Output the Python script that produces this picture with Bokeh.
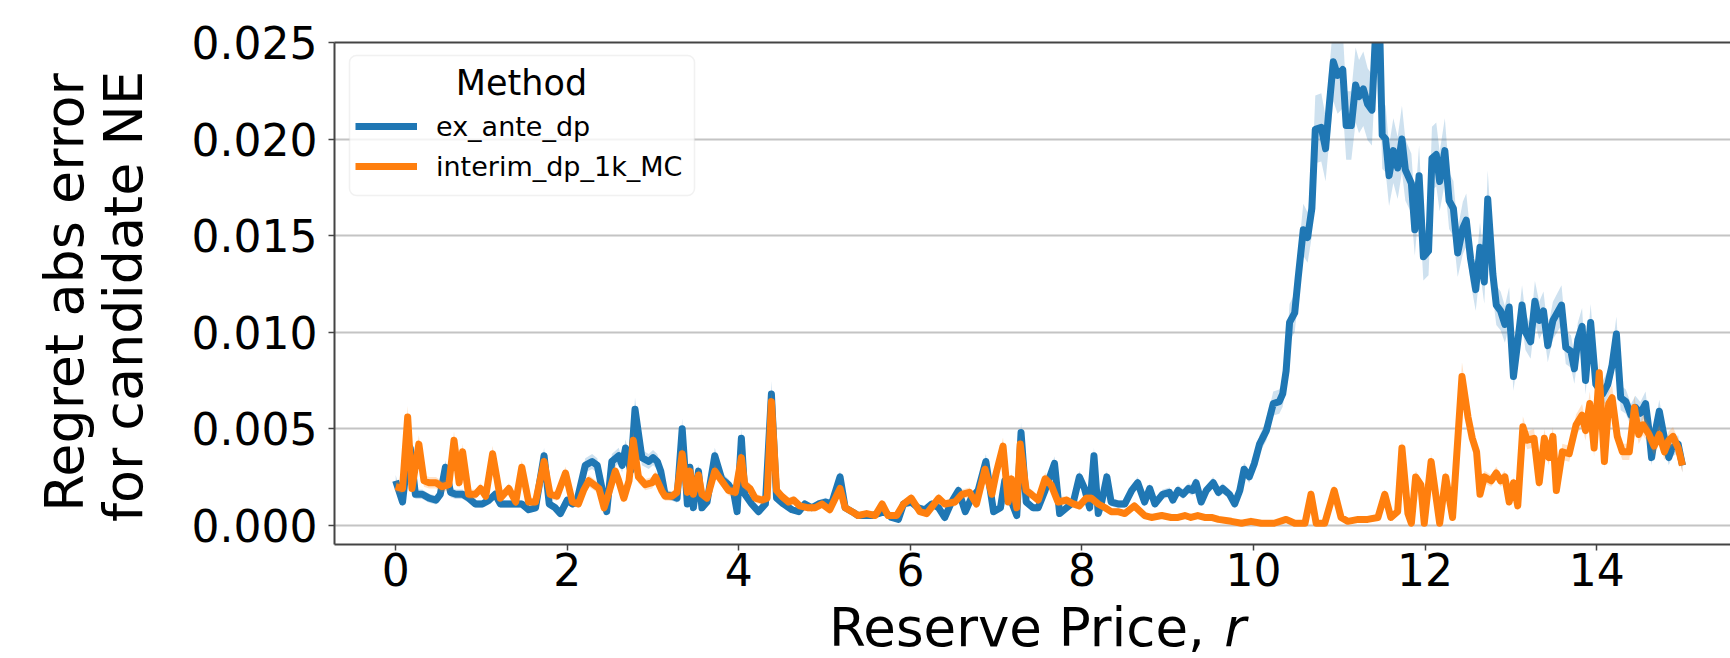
import math
from bokeh.plotting import figure
from bokeh.layouts import row, column
from bokeh.models import (Range1d, LinearAxis, FixedTicker, PrintfTickFormatter,
                          Legend, LegendItem, Label, BoxAnnotation)
from bokeh.embed import file_html
from bokeh.resources import INLINE

# ---------------- data ----------------
x_ticks = [0, 2, 4, 6, 8, 10, 12, 14]
y_ticks = [0.0, 0.005, 0.010, 0.015, 0.020, 0.025]

series_names = ["ex_ante_dp", "interim_dp_1k_MC"]

ex_ante_x = [
    0.00, 0.08, 0.12, 0.17, 0.23, 0.31, 0.39, 0.47, 0.52, 0.58, 0.64, 0.70, 0.78, 0.85, 0.93,
    1.01, 1.09, 1.16, 1.22, 1.32, 1.40, 1.47, 1.55, 1.63, 1.73, 1.79, 1.86, 1.92, 2.00, 2.06,
    2.11, 2.21, 2.29, 2.35, 2.41, 2.46, 2.52, 2.60, 2.64, 2.68, 2.74, 2.79, 2.87, 2.95, 3.00,
    3.05, 3.09, 3.14, 3.22, 3.28, 3.34, 3.40, 3.43, 3.47, 3.53, 3.57, 3.63, 3.72, 3.80, 3.88,
    3.94, 3.98, 4.03, 4.07, 4.15, 4.23, 4.31, 4.38, 4.44, 4.52, 4.62, 4.70, 4.77, 4.85, 4.93,
    5.01, 5.08, 5.18, 5.24, 5.32, 5.39, 5.55, 5.70, 5.78, 5.86, 5.92, 6.01, 6.09, 6.17, 6.25,
    6.33, 6.40, 6.48, 6.56, 6.64, 6.71, 6.79, 6.88, 6.97, 7.05, 7.10, 7.18, 7.24, 7.29, 7.35,
    7.43, 7.49, 7.57, 7.68, 7.74, 7.82, 7.90, 7.97, 8.03, 8.09, 8.14, 8.19, 8.23, 8.29, 8.34,
    8.42, 8.50, 8.58, 8.65, 8.73, 8.79, 8.85, 8.94, 9.02, 9.06, 9.12, 9.18, 9.24, 9.29, 9.33,
    9.39, 9.45, 9.53, 9.59, 9.64, 9.72, 9.78, 9.84, 9.89, 9.95, 10.01, 10.07, 10.15, 10.23, 10.30,
    10.34, 10.38, 10.42, 10.48, 10.52, 10.58, 10.63, 10.68, 10.72, 10.79, 10.84, 10.88, 10.93, 10.98, 11.04,
    11.08, 11.14, 11.19, 11.23, 11.28, 11.33, 11.38, 11.43, 11.47, 11.50, 11.54, 11.58, 11.63, 11.68, 11.73,
    11.77, 11.84, 11.88, 11.93, 11.98, 12.04, 12.08, 12.13, 12.17, 12.23, 12.28, 12.33, 12.38, 12.44, 12.48,
    12.53, 12.59, 12.64, 12.69, 12.73, 12.79, 12.83, 12.88, 12.93, 12.98, 13.03, 13.08, 13.13, 13.17, 13.23,
    13.28, 13.33, 13.38, 13.43, 13.49, 13.59, 13.64, 13.70, 13.74, 13.78, 13.83, 13.87, 13.93, 13.99, 14.07,
    14.13, 14.18, 14.23, 14.28, 14.34, 14.40, 14.45, 14.51, 14.57, 14.61, 14.64, 14.69, 14.73, 14.79, 14.84,
    14.88, 14.95, 15.00,
]
ex_ante_y = [
    0.0023, 0.0012, 0.0028, 0.0040, 0.0016, 0.0016, 0.0014, 0.0013, 0.0016, 0.0030, 0.0017, 0.0016, 0.0016, 0.0014, 0.0011,
    0.0011, 0.0013, 0.0016, 0.0011, 0.0011, 0.0011, 0.0011, 0.0008, 0.0009, 0.0036, 0.0011, 0.0009, 0.0006, 0.0013, 0.0011,
    0.0012, 0.0031, 0.0033, 0.0031, 0.0018, 0.0007, 0.0033, 0.0036, 0.0031, 0.0040, 0.0028, 0.0060, 0.0035, 0.0033, 0.0035,
    0.0033, 0.0028, 0.0016, 0.0015, 0.0014, 0.0050, 0.0011, 0.0030, 0.0009, 0.0028, 0.0009, 0.0012, 0.0036, 0.0024, 0.0021,
    0.0017, 0.0007, 0.0045, 0.0016, 0.0011, 0.0007, 0.0011, 0.0068, 0.0014, 0.0011, 0.0008, 0.0007, 0.0011, 0.0009, 0.0011,
    0.0012, 0.0011, 0.0025, 0.0009, 0.0007, 0.0005, 0.0005, 0.0007, 0.0004, 0.0003, 0.0011, 0.0012, 0.0009, 0.0008, 0.0011,
    0.0009, 0.0004, 0.0012, 0.0018, 0.0007, 0.0014, 0.0018, 0.0033, 0.0007, 0.0009, 0.0023, 0.0012, 0.0005, 0.0048, 0.0012,
    0.0009, 0.0009, 0.0018, 0.0032, 0.0006, 0.0009, 0.0012, 0.0025, 0.0019, 0.0009, 0.0036, 0.0006, 0.0012, 0.0025, 0.0012,
    0.0011, 0.0011, 0.0018, 0.0022, 0.0012, 0.0019, 0.0011, 0.0016, 0.0017, 0.0013, 0.0018, 0.0016, 0.0019, 0.0018, 0.0022,
    0.0012, 0.0018, 0.0022, 0.0017, 0.0019, 0.0016, 0.0011, 0.0018, 0.0029, 0.0025, 0.0032, 0.0042, 0.0049, 0.0063, 0.0064,
    0.0068, 0.0080, 0.0105, 0.0110, 0.0128, 0.0153, 0.0149, 0.0164, 0.0205, 0.0206, 0.0195, 0.0216, 0.0240, 0.0233, 0.0236,
    0.0207, 0.0207, 0.0228, 0.0222, 0.0226, 0.0218, 0.0215, 0.0262, 0.0258, 0.0202, 0.0200, 0.0181, 0.0194, 0.0185, 0.0200,
    0.0184, 0.0177, 0.0153, 0.0181, 0.0139, 0.0142, 0.0190, 0.0192, 0.0178, 0.0194, 0.0168, 0.0164, 0.0141, 0.0154, 0.0158,
    0.0138, 0.0122, 0.0144, 0.0126, 0.0169, 0.0130, 0.0114, 0.0111, 0.0104, 0.0113, 0.0077, 0.0095, 0.0114, 0.0100, 0.0095,
    0.0116, 0.0106, 0.0111, 0.0093, 0.0106, 0.0114, 0.0092, 0.0090, 0.0081, 0.0096, 0.0103, 0.0075, 0.0105, 0.0073, 0.0068,
    0.0073, 0.0083, 0.0099, 0.0066, 0.0064, 0.0057, 0.0061, 0.0058, 0.0063, 0.0049, 0.0035, 0.0050, 0.0059, 0.0045, 0.0035,
    0.0040, 0.0042, 0.0031,
]

interim_x = [
    0.00, 0.08, 0.14, 0.19, 0.27, 0.33, 0.39, 0.47, 0.54, 0.62, 0.68, 0.74, 0.78, 0.85, 0.93,
    0.99, 1.05, 1.13, 1.22, 1.32, 1.40, 1.47, 1.55, 1.63, 1.73, 1.80, 1.88, 1.98, 2.06, 2.13,
    2.19, 2.25, 2.31, 2.37, 2.43, 2.48, 2.56, 2.60, 2.66, 2.72, 2.77, 2.83, 2.91, 2.99, 3.03,
    3.10, 3.14, 3.22, 3.28, 3.34, 3.40, 3.43, 3.47, 3.53, 3.57, 3.63, 3.72, 3.80, 3.88, 3.96,
    4.03, 4.07, 4.13, 4.19, 4.27, 4.33, 4.38, 4.44, 4.50, 4.58, 4.64, 4.71, 4.81, 4.89, 4.97,
    5.06, 5.18, 5.24, 5.32, 5.39, 5.49, 5.59, 5.67, 5.74, 5.84, 5.92, 6.01, 6.11, 6.19, 6.33,
    6.40, 6.52, 6.60, 6.69, 6.77, 6.87, 6.95, 7.00, 7.08, 7.14, 7.18, 7.24, 7.28, 7.35, 7.41,
    7.49, 7.57, 7.64, 7.72, 7.82, 7.90, 7.97, 8.05, 8.11, 8.19, 8.27, 8.34, 8.42, 8.50, 8.61,
    8.73, 8.81, 8.93, 9.04, 9.12, 9.20, 9.27, 9.35, 9.43, 9.51, 9.59, 9.74, 9.86, 9.97, 10.09,
    10.24, 10.38, 10.48, 10.60, 10.67, 10.73, 10.83, 10.94, 11.02, 11.10, 11.22, 11.33, 11.45, 11.53, 11.60,
    11.68, 11.73, 11.80, 11.84, 11.89, 11.95, 11.99, 12.07, 12.17, 12.24, 12.32, 12.43, 12.50, 12.55, 12.60,
    12.64, 12.69, 12.77, 12.83, 12.88, 12.93, 12.98, 13.03, 13.08, 13.14, 13.19, 13.27, 13.33, 13.39, 13.44,
    13.49, 13.53, 13.60, 13.68, 13.76, 13.83, 13.87, 13.92, 13.97, 14.03, 14.09, 14.14, 14.18, 14.24, 14.30,
    14.38, 14.44, 14.49, 14.54, 14.61, 14.67, 14.73, 14.79, 14.84, 14.89, 14.95, 15.00,
]
interim_y = [
    0.0020, 0.0019, 0.0056, 0.0019, 0.0042, 0.0023, 0.0022, 0.0022, 0.0020, 0.0021, 0.0044, 0.0022, 0.0038, 0.0016, 0.0016,
    0.0019, 0.0015, 0.0037, 0.0014, 0.0019, 0.0012, 0.0030, 0.0012, 0.0012, 0.0033, 0.0016, 0.0015, 0.0027, 0.0012, 0.0011,
    0.0018, 0.0023, 0.0021, 0.0019, 0.0009, 0.0016, 0.0028, 0.0023, 0.0014, 0.0023, 0.0044, 0.0025, 0.0021, 0.0022, 0.0025,
    0.0018, 0.0015, 0.0015, 0.0017, 0.0037, 0.0017, 0.0028, 0.0016, 0.0026, 0.0016, 0.0014, 0.0028, 0.0023, 0.0018, 0.0017,
    0.0035, 0.0021, 0.0019, 0.0014, 0.0013, 0.0014, 0.0064, 0.0018, 0.0015, 0.0012, 0.0013, 0.0010, 0.0009, 0.0009, 0.0011,
    0.0008, 0.0019, 0.0009, 0.0007, 0.0005, 0.0006, 0.0005, 0.0011, 0.0005, 0.0005, 0.0011, 0.0014, 0.0007, 0.0006, 0.0014,
    0.0011, 0.0012, 0.0016, 0.0017, 0.0011, 0.0029, 0.0016, 0.0027, 0.0041, 0.0012, 0.0024, 0.0009, 0.0042, 0.0018, 0.0016,
    0.0013, 0.0024, 0.0021, 0.0012, 0.0013, 0.0011, 0.0010, 0.0014, 0.0014, 0.0011, 0.0009, 0.0007, 0.0007, 0.0006, 0.0010,
    0.0005, 0.0004, 0.0005, 0.0004, 0.0004, 0.0005, 0.0004, 0.0005, 0.0004, 0.0004, 0.0003, 0.0002, 0.0001, 0.0002, 0.0001,
    0.0001, 0.0003, 0.0001, 0.0001, 0.0016, 0.0001, 0.0001, 0.0018, 0.0004, 0.0002, 0.0003, 0.0003, 0.0004, 0.0016, 0.0004,
    0.0007, 0.0040, 0.0006, 0.0001, 0.0025, 0.0021, 0.0001, 0.0033, 0.0001, 0.0025, 0.0004, 0.0077, 0.0056, 0.0045, 0.0038,
    0.0016, 0.0025, 0.0023, 0.0027, 0.0023, 0.0025, 0.0012, 0.0022, 0.0010, 0.0051, 0.0044, 0.0045, 0.0022, 0.0045, 0.0035,
    0.0046, 0.0018, 0.0038, 0.0037, 0.0052, 0.0057, 0.0049, 0.0063, 0.0040, 0.0079, 0.0033, 0.0063, 0.0066, 0.0046, 0.0038,
    0.0038, 0.0061, 0.0047, 0.0052, 0.0047, 0.0041, 0.0047, 0.0038, 0.0044, 0.0046, 0.0040, 0.0031,
]

# relative spread of the shaded confidence band (visual estimate)
band_rel = 0.08
band_abs = 0.00012

# ---------------- styling ----------------
FONT = "DejaVu Sans"
BLUE = "#1f77b4"
ORANGE = "#ff7f0e"
SPINE = "#444444"

TOTAL_W, TOTAL_H = 1730, 658
YLAB_W = 188           # strip on the left holding the two-line y label
MAIN_H = 608           # main plot height; x label strip below it
MAIN_W = TOTAL_W - YLAB_W
OVERLAP = 12           # x-label strip tucks under the tick-label area
XLAB_H = TOTAL_H - MAIN_H + OVERLAP

p = figure(width=MAIN_W, height=MAIN_H, output_backend="svg", toolbar_location=None,
           x_range=Range1d(-0.713, 15.56), y_range=Range1d(-0.001, 0.025),
           min_border_left=145, min_border_right=0, min_border_top=42, min_border_bottom=64)
p.outline_line_color = None
p.background_fill_color = "white"
p.border_fill_color = "white"

p.xaxis.ticker = FixedTicker(ticks=x_ticks)
p.yaxis.ticker = FixedTicker(ticks=y_ticks)
p.yaxis.formatter = PrintfTickFormatter(format="%.3f")
p.xgrid.grid_line_color = None
p.ygrid.grid_line_color = "#c4c4c4"
p.ygrid.grid_line_width = 2

for ax in list(p.xaxis) + list(p.yaxis):
    ax.axis_line_color = SPINE
    ax.axis_line_width = 2
    ax.major_tick_line_color = SPINE
    ax.major_tick_line_width = 1.5
    ax.major_tick_out = 6
    ax.major_tick_in = 0
    ax.minor_tick_line_color = None
    ax.major_label_text_font = FONT
    ax.major_label_text_font_size = "44px"
    ax.major_label_text_color = "black"
p.yaxis.major_label_standoff = 11
p.xaxis.major_label_standoff = 2

top_axis = LinearAxis(ticker=FixedTicker(ticks=[]), axis_line_color=SPINE, axis_line_width=2,
                      major_tick_line_color=None, minor_tick_line_color=None)
p.add_layout(top_axis, "above")

# bands + lines
def band(ys, sign):
    return [v + sign * (band_abs + band_rel * v) for v in ys]

p.varea(x=ex_ante_x, y1=band(ex_ante_y, -1), y2=band(ex_ante_y, 1), fill_color=BLUE, fill_alpha=0.22)
bl = p.line(ex_ante_x, ex_ante_y, line_color=BLUE, line_width=7, line_join="round")
p.varea(x=interim_x, y1=band(interim_y, -1), y2=band(interim_y, 1), fill_color=ORANGE, fill_alpha=0.22)
ol = p.line(interim_x, interim_y, line_color=ORANGE, line_width=7, line_join="round")

# legend frame + centred title
box = BoxAnnotation(left=15, right=360, top=489, bottom=349,
                    left_units="screen", right_units="screen", top_units="screen", bottom_units="screen",
                    fill_color="white", fill_alpha=0.8, line_color="#d0d0d0", line_width=1.5,
                    border_radius=7)
p.add_layout(box)
p.add_layout(Label(x=187, y=462, x_units="screen", y_units="screen", text="Method",
                   text_font=FONT, text_font_size="35px", text_align="center",
                   text_baseline="alphabetic", text_color="black"))
legend = Legend(items=[LegendItem(label=series_names[0], renderers=[bl]),
                       LegendItem(label=series_names[1], renderers=[ol])],
                location=(21, 358), padding=0, margin=0, border_line_color=None,
                background_fill_alpha=0, glyph_width=62, glyph_height=40, label_height=40,
                spacing=0, label_standoff=19, label_text_font=FONT, label_text_font_size="27px",
                label_text_color="black")
p.add_layout(legend)

# ---- left strip: two-line rotated y label ----
yl = figure(width=YLAB_W, height=TOTAL_H, output_backend="svg", toolbar_location=None,
            x_range=Range1d(0, YLAB_W), y_range=Range1d(0, TOTAL_H),
            x_axis_type=None, y_axis_type=None, min_border=0)
yl.outline_line_color = None
yl.add_layout(Label(x=64, y=TOTAL_H - 292, text="Regret abs error", angle=math.pi / 2,
                    text_font=FONT, text_font_size="54px", text_align="center",
                    text_baseline="alphabetic", text_color="black"))
yl.add_layout(Label(x=123, y=TOTAL_H - 296, text="for candidate NE", angle=math.pi / 2,
                    text_font=FONT, text_font_size="54px", text_align="center",
                    text_baseline="alphabetic", text_color="black"))

# ---- bottom strip: x label with italic r (frame aligned with the main frame) ----
xl = figure(width=MAIN_W, height=XLAB_H, output_backend="svg", toolbar_location=None,
            x_range=p.x_range, y_range=Range1d(0, XLAB_H),
            x_axis_type=None, y_axis_type=None, min_border=0)
xl.outline_line_color = None
xl.background_fill_alpha = 0
xl.border_fill_alpha = 0
xl.margin = (-OVERLAP, 0, 0, 0)
xl.add_layout(Label(x=5.05, y=31, text="Reserve Price, ",
                    text_font=FONT, text_font_size="53px", text_align="left",
                    text_baseline="alphabetic", text_color="black"))
xl.add_layout(Label(x=9.66, y=31, text="r",
                    text_font=FONT, text_font_size="53px", text_font_style="italic",
                    text_align="left", text_baseline="alphabetic", text_color="black"))

layout = row(yl, column(p, xl))
open("out.html", "w").write(file_html(layout, INLINE))
